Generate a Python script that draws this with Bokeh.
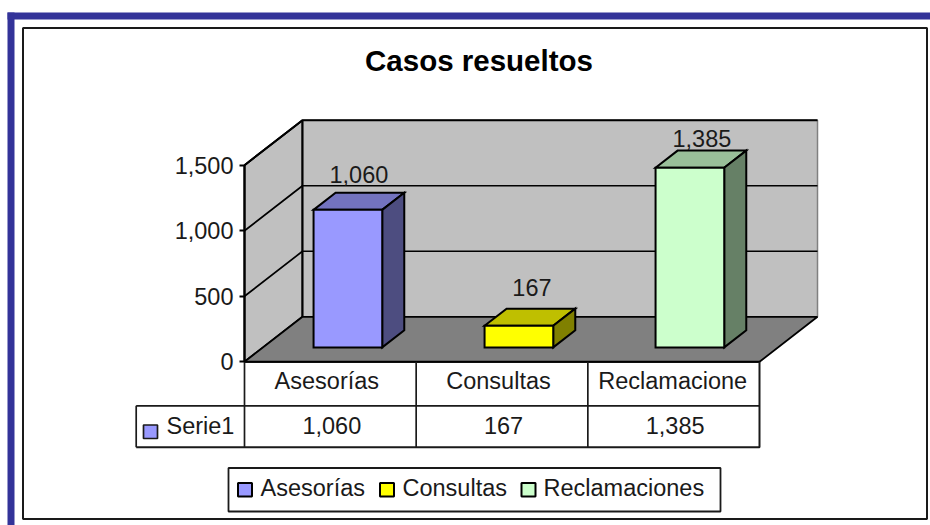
from bokeh.plotting import figure
from bokeh.models import Range1d, FixedTicker, NumeralTickFormatter
from bokeh.core.properties import value
from bokeh.embed import file_html
from bokeh.resources import INLINE

title_text = "Casos resueltos"
categories = ["Asesorías", "Consultas", "Reclamaciones"]
table_labels = ["Asesorías", "Consultas", "Reclamacione"]
series_name = "Serie1"
values = [1060, 167, 1385]
ticks = [0, 500, 1000, 1500]
front_colors = ["#9999ff", "#ffff00", "#ccffcc"]
top_colors = ["#7373bf", "#bfbf00", "#99bf99"]
side_colors = ["#4d4d80", "#808000", "#668066"]

FONT = value("Liberation Sans")
SIZE = "23.5px"
W, H = 930, 525
OFF = 0
ORIGIN_X, ORIGIN_Y = 244.0, 361.3
CAT_W = 171.67
PX_PER_VAL = 196.6 / 1500
DEPTH_X, DEPTH_Y = 58.0, 45.0

p = figure(width=W, height=H, output_backend="svg", toolbar_location=None,
           x_range=Range1d((OFF - ORIGIN_X) / CAT_W, (OFF + W - ORIGIN_X) / CAT_W),
           y_range=Range1d((ORIGIN_Y - OFF - H) / PX_PER_VAL, (ORIGIN_Y - OFF) / PX_PER_VAL),
           min_border=0, min_border_left=0, min_border_right=0, min_border_top=0, min_border_bottom=0,
           outline_line_color=None, background_fill_color="white", border_fill_color="white")
p.extra_x_ranges["px"] = Range1d(OFF, OFF + W)
p.extra_y_ranges["px"] = Range1d(OFF + H, OFF)
p.grid.visible = False
p.xaxis.visible = False

PX = dict(x_range_name="px", y_range_name="px")

# page chrome
p.quad(left=[7, 7], right=[14, 932], top=[12, 12], bottom=[527, 19], fill_color="#333399", line_color=None, **PX)
p.quad(left=[22.5], right=[926.5], top=[27.5], bottom=[518.5], fill_color="white", line_color="#1a1a1a", line_width=2, **PX)
p.text(x=[478.5], y=[60], text=[title_text], text_font=FONT, text_font_size="29.5px", text_font_style="bold",
       text_align="center", text_baseline="middle", text_color="black", **PX)


def cx(c, d=0.0):
    return c + d * DEPTH_X / CAT_W


def vy(v, d=0.0):
    return v + d * DEPTH_Y / PX_PER_VAL


top_v = ticks[-1]
n = len(categories)
# walls and floor
p.patch([cx(0), cx(0, 1), cx(0, 1), cx(0)], [vy(0), vy(0, 1), vy(top_v, 1), vy(top_v)],
        fill_color="#c0c0c0", line_color="black", line_width=2)
p.patch([cx(0, 1), cx(n, 1), cx(n, 1), cx(0, 1)], [vy(0, 1), vy(0, 1), vy(top_v, 1), vy(top_v, 1)],
        fill_color="#c0c0c0", line_color="#808080", line_width=1.5)
p.patch([cx(0), cx(n), cx(n, 1), cx(0, 1)], [vy(0), vy(0), vy(0, 1), vy(0, 1)],
        fill_color="#808080", line_color="black", line_width=1.8)
for t in ticks[1:]:
    p.line([cx(0), cx(0, 1), cx(n, 1)], [vy(t), vy(t, 1), vy(t, 1)], line_color="black",
           line_width=2 if t == top_v else 1.7)
p.line([cx(0, 1), cx(0, 1)], [vy(0, 1), vy(top_v, 1)], line_color="black", line_width=2)
p.line([cx(0), cx(n)], [vy(0), vy(0)], line_color="black", line_width=2)

# bars
D0, D1 = 0.32, 0.70
BAR_W = 0.4
BAR_SCALE = 0.99
BAR_STEP = 171.0 / CAT_W
SHIFT = -1.0 / CAT_W
label_lift = [18, 21, 12]
label_nudge = [0, 2, 1]
for i, v in enumerate(values):
    h = v * BAR_SCALE
    mid = 0.5 + i * BAR_STEP + SHIFT
    a, b = mid - BAR_W / 2, mid + BAR_W / 2
    style = dict(line_color="black", line_width=2, line_join="miter")
    p.patch([cx(a, D0), cx(b, D0), cx(b, D1), cx(a, D1)], [vy(h, D0), vy(h, D0), vy(h, D1), vy(h, D1)],
            fill_color=top_colors[i], **style)
    p.patch([cx(b, D0), cx(b, D1), cx(b, D1), cx(b, D0)], [vy(0, D0), vy(0, D1), vy(h, D1), vy(h, D0)],
            fill_color=side_colors[i], **style)
    p.quad(left=[cx(a, D0)], right=[cx(b, D0)], bottom=[vy(0, D0)], top=[vy(h, D0)],
           fill_color=front_colors[i], **style)
    p.text(x=[cx(mid, (D0 + D1) / 2)], y=[vy(h, D1)], x_offset=[label_nudge[i]], y_offset=[-label_lift[i]],
           text=[f"{v:,}"], text_font=FONT, text_font_size=SIZE, text_align="center", text_baseline="middle",
           text_color="#1a1a1a")

# value axis
ax = p.yaxis[0]
ax.fixed_location = 0
ax.bounds = (ticks[0], ticks[-1])
ax.ticker = FixedTicker(ticks=ticks)
ax.formatter = NumeralTickFormatter(format="0,0")
ax.axis_line_color = "black"
ax.axis_line_width = 2
ax.major_tick_line_color = "black"
ax.major_tick_line_width = 2
ax.major_tick_in = 0
ax.major_tick_out = 5
ax.minor_tick_line_color = None
ax.major_label_standoff = 6
ax.major_label_text_font = "Liberation Sans"
ax.major_label_text_font_size = SIZE
ax.major_label_text_color = "#1a1a1a"

# data table
ROW0, ROW1, ROW2 = 361.3, 405.3, 446.7
TL, TX, TR = 135.7, 244.0, 759.0
col_x = [TX + CAT_W * k for k in range(n + 1)]
line = dict(line_color="#1a1a1a", **PX)
p.line([TL, TR], [ROW1, ROW1], line_width=1.7, **line)
p.line([TL, TR, TR], [ROW2, ROW2, ROW0], line_width=2, **line)
p.line([TL, TL], [ROW1, ROW2], line_width=1.7, **line)
for x0 in col_x[:-1]:
    p.line([x0, x0], [ROW0, ROW2], line_width=1.7, **line)
header_nudge = [-3.5, -3.5, -1]
for k in range(n):
    xm = col_x[k] + CAT_W / 2
    p.text(x=[xm + header_nudge[k]], y=[380.5], text=[table_labels[k]], text_font=FONT, text_font_size=SIZE,
           text_align="center", text_baseline="middle", text_color="#1a1a1a", **PX)
    p.text(x=[xm + 1.5], y=[425], text=[f"{values[k]:,}"], text_font=FONT, text_font_size=SIZE,
           text_align="center", text_baseline="middle", text_color="#1a1a1a", **PX)
p.quad(left=[143], right=[157], top=[424.5], bottom=[438], fill_color=front_colors[0], line_color="#1a1a1a", line_width=1.7, **PX)
p.text(x=[166], y=[425], text=[series_name], text_font=FONT, text_font_size=SIZE,
       text_align="left", text_baseline="middle", text_color="#1a1a1a", **PX)

# legend
p.quad(left=[228], right=[720], top=[467.5], bottom=[511], fill_color="white", line_color="#1a1a1a", line_width=1.8, **PX)
swatch_x = [237.5, 379.5, 521]
text_x = [260, 402, 543]
for k in range(n):
    p.quad(left=[swatch_x[k]], right=[swatch_x[k] + 14], top=[482.5], bottom=[496],
           fill_color=front_colors[k], line_color="black", line_width=2, **PX)
    p.text(x=[text_x[k]], y=[487], text=[categories[k]], text_font=FONT, text_font_size=SIZE,
           text_align="left", text_baseline="middle", text_color="#1a1a1a", **PX)

open("out.html", "w").write(file_html(p, INLINE))
